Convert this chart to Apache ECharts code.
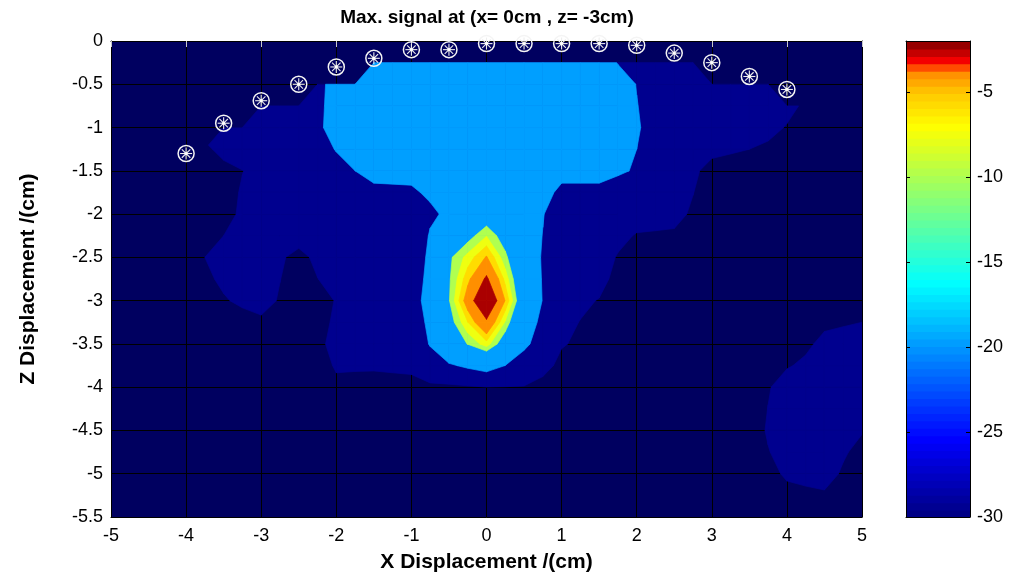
<!DOCTYPE html>
<html>
<head>
<meta charset="utf-8">
<script src="https://cdn.jsdelivr.net/npm/echarts@6/dist/echarts.min.js"></script>
<style>
  html, body { margin: 0; padding: 0; background: #fff; }
  #chart { width: 1016px; height: 581px; }
</style>
</head>
<body>
<div id="chart"></div>
<script>
// measured max signal (dB), sampled every 0.5 cm
const xGrid = [-5, -4.5, -4, -3.5, -3, -2.5, -2, -1.5, -1, -0.5, 0, 0.5, 1, 1.5, 2, 2.5, 3, 3.5, 4, 4.5, 5];
const zGrid = [0, -0.5, -1, -1.5, -2, -2.5, -3, -3.5, -4, -4.5, -5, -5.5];

const sigZ00 = [-30, -30, -30, -28, -26, -25, -21.5, -19, -19, -19, -19, -19, -19, -22, -27, -25, -27, -25.5, -26, -30, -30];
const sigZ05 = [-30, -30, -30, -28, -26, -25, -21.5, -19, -19, -19, -19, -19, -19, -19, -22.6, -25, -25, -25.5, -26, -30, -30];
const sigZ10 = [-30, -30, -30, -25.5, -25.5, -25, -21.2, -19, -19, -19, -19, -19, -19, -19, -22.2, -25, -25, -26, -28.2, -30, -30];
const sigZ15 = [-30, -30, -30, -28.8, -27.3, -25, -23.5, -21.5, -21.5, -20, -19, -19.5, -21.5, -21.3, -22.8, -25.5, -29.2, -30, -30, -30, -30];
const sigZ20 = [-30, -30, -30, -29, -26, -25, -25, -25, -24.5, -21.8, -17, -19.6, -25, -25.5, -26.5, -27, -30, -30, -30, -30, -30];
const sigZ25 = [-30, -30, -29, -27, -26.5, -28.8, -26, -26, -26.8, -15.5, -9.8, -19.1, -26.8, -26.5, -30, -30, -30, -30, -30, -30, -30];
const sigZ30 = [-30, -30, -29.5, -28.2, -27, -29.5, -27.9, -27, -25.1, -15.2, -2, -18.25, -27.1, -28.1, -30, -30, -30, -30, -30, -30, -29.5];
const sigZ35 = [-30, -30, -30, -30, -30, -29, -27.6, -27, -26.8, -17.4, -12.4, -21.5, -27.75, -29.3, -30, -30, -30, -30, -30, -27.2, -26.5];
const sigZ40 = [-30, -30, -30, -30, -30, -28.8, -28.2, -28.6, -28.5, -28.8, -28.05, -28.2, -30, -30, -30, -30, -30, -30, -26.55, -26, -27.5];
const sigZ45 = [-30, -30, -30, -30, -30, -30, -30, -30, -30, -30, -30, -30, -30, -30, -30, -30, -30, -30, -25.2, -26, -27.8];
const sigZ50 = [-30, -30, -30, -30, -30, -30, -30, -30, -30, -30, -30, -30, -30, -30, -30, -30, -30, -30, -27.6, -26.8, -30];
const sigZ55 = [-30, -30, -30, -30, -30, -30, -30, -30, -30, -30, -30, -30, -30, -30, -30, -30, -30, -30, -30, -30, -30];
const signalRows = [sigZ00, sigZ05, sigZ10, sigZ15, sigZ20, sigZ25, sigZ30, sigZ35, sigZ40, sigZ45, sigZ50, sigZ55];

// probe positions along the surface
const probeX = [-4, -3.5, -3, -2.5, -2, -1.5, -1, -0.5, 0, 0.5, 1, 1.5, 2, 2.5, 3, 3.5, 4];
const probeZ = [-1.30, -0.95, -0.69, -0.50, -0.30, -0.20, -0.10, -0.10, -0.03, -0.03, -0.03, -0.03, -0.05, -0.14, -0.25, -0.41, -0.56];

// contour levels and their fill colours
const levels = [-28, -22.5, -15, -13.3, -11.7, -10, -6.5];
const levelColors = ['#00008f', '#009fff', '#b0ff50', '#efff10', '#ffdc00', '#ff8f00', '#aa0000'];

// colour bar: range, and where along the jet map each value sits
const cbMin = -30;
const cbMax = -2;
const cbSteps = 64;
const cbAnchorValue = [-30, -7, -5, -3.8, -3.2, -2];
const cbAnchorJet = [0, 0.625, 0.68, 0.74, 0.875, 1];

const FONT = '"Liberation Sans", Arial, Helvetica, sans-serif';
const SUB = 2;

function surfaceZ(x) {
  const n = probeX.length;
  if (x <= probeX[0]) return probeZ[0];
  if (x >= probeX[n - 1]) return probeZ[n - 1];
  for (let k = 1; k < n; k++) {
    if (x <= probeX[k]) {
      const t = (x - probeX[k - 1]) / (probeX[k] - probeX[k - 1]);
      return probeZ[k - 1] + t * (probeZ[k] - probeZ[k - 1]);
    }
  }
  return probeZ[n - 1];
}
const inside = (x, z) => z <= surfaceZ(x) - 0.01;

function clipAbove(poly, level) {
  const out = [];
  for (let a = 0; a < poly.length; a++) {
    const p = poly[a], q = poly[(a + 1) % poly.length];
    const pin = p.v >= level, qin = q.v >= level;
    if (pin) out.push(p);
    if (pin !== qin) {
      const t = (level - p.v) / (q.v - p.v);
      out.push({ x: p.x + t * (q.x - p.x), z: p.z + t * (q.z - p.z), v: level });
    }
  }
  return out;
}

const cells = [];
for (let j = 0; j < zGrid.length - 1; j++) {
  for (let i = 0; i < xGrid.length - 1; i++) {
    cells.push([xGrid[i], zGrid[j], xGrid[i + 1], zGrid[j + 1],
      signalRows[j][i], signalRows[j][i + 1], signalRows[j + 1][i + 1], signalRows[j + 1][i]]);
  }
}

function contourRenderer(level, color) {
  return function (params, api) {
    const x0 = api.value(0), z0 = api.value(1), x1 = api.value(2), z1 = api.value(3);
    const c = [api.value(4), api.value(5), api.value(6), api.value(7)];
    const children = [];
    for (let a = 0; a < SUB; a++) {
      for (let b = 0; b < SUB; b++) {
        const corners = [[a, b], [a + 1, b], [a + 1, b + 1], [a, b + 1]].map(([p, q]) => {
          const s = p / SUB, t = q / SUB;
          const x = x0 + s * (x1 - x0), z = z0 + t * (z1 - z0);
          const v = c[0] * (1 - s) * (1 - t) + c[1] * s * (1 - t) + c[2] * s * t + c[3] * (1 - s) * t;
          return { x, z, v, ok: inside(x, z) };
        });
        const poly = corners.filter(p => p.ok);
        if (poly.length < 3) continue;
        const cut = clipAbove(poly, level);
        if (cut.length < 3) continue;
        children.push({
          type: 'polygon',
          shape: { points: cut.map(p => api.coord([p.x, p.z])) },
          style: { fill: color, stroke: color, lineWidth: 0.7 }
        });
      }
    }
    return { type: 'group', children };
  };
}

// continuous matlab jet, g in [0, 1]
function jetAt(g) {
  const cl = v => Math.max(0, Math.min(1, v));
  const r = cl(Math.min(4 * g - 1.5, -4 * g + 4.5));
  const gr = cl(Math.min(4 * g - 0.5, -4 * g + 3.5));
  const b = cl(Math.min(4 * g + 0.5, -4 * g + 2.5));
  return 'rgb(' + Math.round(r * 255) + ',' + Math.round(gr * 255) + ',' + Math.round(b * 255) + ')';
}
function jetPos(v) {
  for (let k = 1; k < cbAnchorValue.length; k++) {
    if (v <= cbAnchorValue[k]) {
      const t = (v - cbAnchorValue[k - 1]) / (cbAnchorValue[k] - cbAnchorValue[k - 1]);
      return cbAnchorJet[k - 1] + t * (cbAnchorJet[k] - cbAnchorJet[k - 1]);
    }
  }
  return 1;
}
const cbData = [];
for (let k = 0; k < cbSteps; k++) {
  const lo = cbMin + k * (cbMax - cbMin) / cbSteps;
  const hi = cbMin + (k + 1) * (cbMax - cbMin) / cbSteps;
  cbData.push([lo, hi]);
}

const chart = echarts.init(document.getElementById('chart'));

const contourSeries = levels.map((lv, k) => ({
  type: 'custom',
  xAxisIndex: 0,
  yAxisIndex: 0,
  data: cells,
  encode: { x: [0, 2], y: [1, 3] },
  renderItem: contourRenderer(lv, levelColors[k]),
  clip: true,
  silent: true,
  z: 2
}));

chart.setOption({
  animation: false,
  backgroundColor: '#fff',
  title: {
    text: 'Max. signal at (x= 0cm , z= -3cm)',
    left: 487,
    top: 8,
    textAlign: 'center',
    padding: 0,
    textStyle: { fontFamily: FONT, fontSize: 19, fontWeight: 'bold', color: '#000' }
  },
  grid: [
    { left: 111, top: 41, width: 751, height: 476, show: true, backgroundColor: '#000060', borderWidth: 0 },
    { left: 906, top: 41, width: 64, height: 476, show: false }
  ],
  xAxis: [
    {
      gridIndex: 0, type: 'value', min: -5, max: 5, interval: 1, position: 'bottom',
      axisLine: { show: true, onZero: false, lineStyle: { color: '#000', width: 1 } },
      axisTick: { show: false },
      axisLabel: { color: '#000', fontSize: 18, fontFamily: FONT, margin: 10 },
      splitLine: { show: true, lineStyle: { color: '#000', width: 1 } },
      name: 'X Displacement /(cm)', nameLocation: 'middle', nameGap: 35,
      nameTextStyle: { color: '#000', fontSize: 21, fontWeight: 'bold', fontFamily: FONT }
    },
    {
      gridIndex: 0, type: 'value', min: -5, max: 5, interval: 1, position: 'top', z: 5,
      axisLine: { show: true, onZero: false, lineStyle: { color: '#000', width: 1 } },
      axisTick: { show: true, inside: true, length: 6, lineStyle: { color: '#c8c8c8', width: 1 } },
      axisLabel: { show: false },
      splitLine: { show: false }
    },
    {
      gridIndex: 1, type: 'value', min: 0, max: 1, position: 'bottom', z: 5,
      axisLine: { show: true, onZero: false, lineStyle: { color: '#000' } },
      axisTick: { show: false }, axisLabel: { show: false }, splitLine: { show: false }
    },
    {
      gridIndex: 1, type: 'value', min: 0, max: 1, position: 'top', z: 5,
      axisLine: { show: true, onZero: false, lineStyle: { color: '#000' } },
      axisTick: { show: false }, axisLabel: { show: false }, splitLine: { show: false }
    }
  ],
  yAxis: [
    {
      gridIndex: 0, type: 'value', min: -5.5, max: 0, interval: 0.5, position: 'left',
      axisLine: { show: true, onZero: false, lineStyle: { color: '#000', width: 1 } },
      axisTick: { show: false },
      axisLabel: { color: '#000', fontSize: 18, fontFamily: FONT, margin: 8 },
      splitLine: { show: true, lineStyle: { color: '#000', width: 1 } },
      name: 'Z Displacement /(cm)', nameLocation: 'middle', nameGap: 72, nameRotate: 90,
      nameTextStyle: { color: '#000', fontSize: 21, fontWeight: 'bold', fontFamily: FONT }
    },
    {
      gridIndex: 0, type: 'value', min: -5.5, max: 0, interval: 0.5, position: 'right', z: 5,
      axisLine: { show: true, onZero: false, lineStyle: { color: '#000', width: 1 } },
      axisTick: { show: false }, axisLabel: { show: false }, splitLine: { show: false }
    },
    {
      gridIndex: 1, type: 'value', min: cbMin, max: cbMax, interval: 5, position: 'right', z: 5,
      axisLine: { show: true, onZero: false, lineStyle: { color: '#000' } },
      axisTick: { show: true, inside: true, length: 4, lineStyle: { color: '#000' } },
      axisLabel: {
        color: '#000', fontSize: 18, fontFamily: FONT, margin: 7,
        formatter: v => (v % 5 === 0 ? String(v) : '')
      },
      splitLine: { show: false }
    },
    {
      gridIndex: 1, type: 'value', min: cbMin, max: cbMax, interval: 5, position: 'left', z: 5,
      axisLine: { show: true, onZero: false, lineStyle: { color: '#000' } },
      axisTick: { show: true, inside: true, length: 4, lineStyle: { color: '#000' } },
      axisLabel: { show: false }, splitLine: { show: false }
    }
  ],
  series: contourSeries.concat([
    {
      type: 'custom',
      xAxisIndex: 0,
      yAxisIndex: 0,
      z: 10,
      silent: true,
      data: probeX.map((x, k) => [x, probeZ[k]]),
      renderItem: function (params, api) {
        const c = api.coord([api.value(0), api.value(1)]);
        const r = 8, s = 6, d = s * Math.SQRT1_2;
        const ln = (x1, y1, x2, y2) => ({ type: 'line', shape: { x1, y1, x2, y2 }, style: { stroke: '#eeeeee', lineWidth: 1.1 } });
        return {
          type: 'group',
          children: [
            { type: 'circle', shape: { cx: c[0], cy: c[1], r }, style: { fill: 'transparent', stroke: '#f4f4f4', lineWidth: 1.5 } },
            ln(c[0] - s, c[1], c[0] + s, c[1]),
            ln(c[0], c[1] - s, c[0], c[1] + s),
            ln(c[0] - d, c[1] - d, c[0] + d, c[1] + d),
            ln(c[0] - d, c[1] + d, c[0] + d, c[1] - d),
            { type: 'circle', shape: { cx: c[0], cy: c[1], r: 1.6 }, style: { fill: '#ffffff' } }
          ]
        };
      }
    },
    {
      type: 'custom',
      xAxisIndex: 2,
      yAxisIndex: 2,
      silent: true,
      data: cbData,
      encode: { y: [0, 1] },
      renderItem: function (params, api) {
        const lo = api.value(0), hi = api.value(1);
        const p1 = api.coord([0, hi]);
        const p2 = api.coord([1, lo]);
        const col = jetAt(jetPos((lo + hi) / 2));
        return {
          type: 'rect',
          shape: { x: p1[0], y: p1[1], width: p2[0] - p1[0], height: p2[1] - p1[1] + 1 },
          style: { fill: col }
        };
      }
    }
  ])
});
</script>
</body>
</html>
